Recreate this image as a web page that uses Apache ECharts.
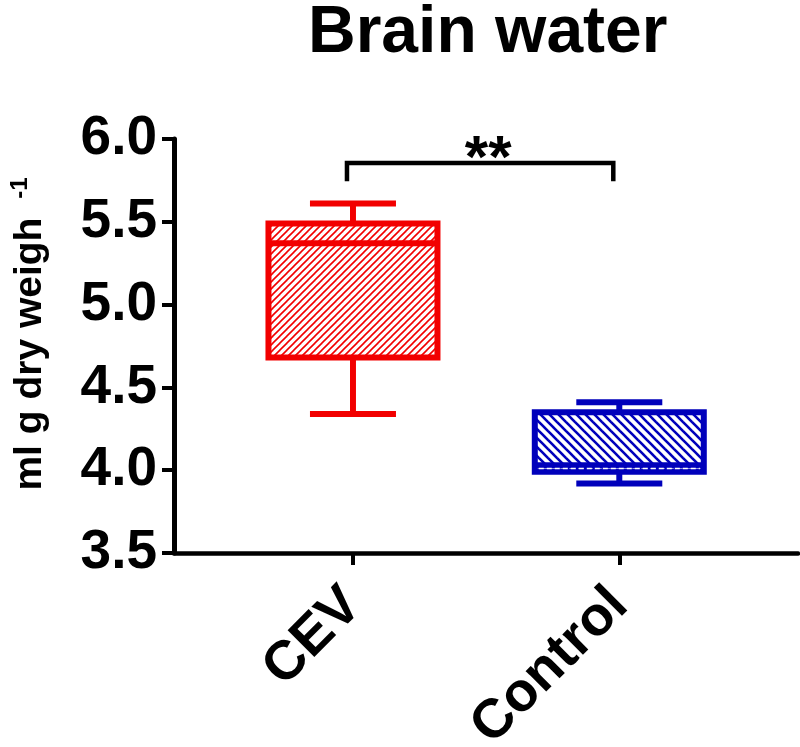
<!DOCTYPE html>
<html><head><meta charset="utf-8">
<script src="https://cdn.jsdelivr.net/npm/echarts@6/dist/echarts.min.js"></script>
<style>html,body{margin:0;padding:0;background:#fff}#c{width:800px;height:747px}</style>
</head><body><div id="c"></div>
<script>
// ---- data ----
const categories = ['CEV', 'Control'];
const whiskerMin = [4.34, 3.92];
const q1 = [4.68, 3.99];
const median = [5.37, 4.03];
const q3 = [5.49, 4.35];
const whiskerMax = [5.61, 4.41];
const yTicks = [3.5, 4.0, 4.5, 5.0, 5.5, 6.0];
const bracketLevels = [5.745, 5.855];
const sigLabel = '**';
const titleText = 'Brain water';
const yName = 'ml g dry weigh';
const ySup = '-1';

// ---- styles ----
const FONT = '"Liberation Sans", Arial, sans-serif';
const COLORS = ['#f20000', '#0000bb'];
const BOX_W = 169, CAP_W = 86, LW = 6;

function makeHatch(color, size, lw, forward) {
  const c = document.createElement('canvas');
  c.width = size; c.height = size;
  const g = c.getContext('2d');
  g.fillStyle = '#fff'; g.fillRect(0, 0, size, size);
  g.strokeStyle = color; g.lineWidth = lw; g.lineCap = 'square';
  const segs = forward
    ? [[0, size, size, 0], [-size, size, size, -size], [0, 2 * size, 2 * size, 0]]
    : [[0, 0, size, size], [-size, 0, size, 2 * size], [0, -size, 2 * size, size]];
  segs.forEach(s => { g.beginPath(); g.moveTo(s[0], s[1]); g.lineTo(s[2], s[3]); g.stroke(); });
  return { image: c, repeat: 'repeat' };
}
const patterns = [makeHatch(COLORS[0], 7, 1.6, true), makeHatch(COLORS[1], 9, 2.6, false)];

const boxData = categories.map((c, i) => [i, whiskerMin[i], q1[i], median[i], q3[i], whiskerMax[i]]);

function renderBox(params, api) {
  const i = api.value(0);
  const cx = api.coord([i, api.value(3)])[0];
  const yMin = api.coord([i, api.value(1)])[1];
  const yQ1 = api.coord([i, api.value(2)])[1];
  const yMed = api.coord([i, api.value(3)])[1];
  const yQ3 = api.coord([i, api.value(4)])[1];
  const yMax = api.coord([i, api.value(5)])[1];
  const col = COLORS[i];
  const h = BOX_W / 2, ch = CAP_W / 2;
  const ln = (x1, y1, x2, y2) => ({ type: 'line', shape: { x1, y1, x2, y2 }, style: { stroke: col, lineWidth: LW } });
  const children = [
    ln(cx, yQ3, cx, yMax), ln(cx, yQ1, cx, yMin),
    ln(cx - ch, yMax, cx + ch, yMax), ln(cx - ch, yMin, cx + ch, yMin),
    { type: 'rect', shape: { x: cx - h, y: yQ3, width: BOX_W, height: yQ1 - yQ3 }, style: { fill: patterns[i], stroke: col, lineWidth: LW } },
    ln(cx - h, yMed, cx + h, yMed)
  ];
  if (Math.abs(yQ1 - yMed) < 12) {
    const ym = (yQ1 + yMed) / 2;
    children.push({ type: 'line', shape: { x1: cx - h + 4, y1: ym, x2: cx + h - 4, y2: ym }, style: { stroke: '#fff', lineWidth: 1.5, lineDash: [5, 3] } });
  }
  return { type: 'group', children };
}

function renderBracket(params, api) {
  const lo = api.value(2), hi = api.value(3);
  const a = api.coord([api.value(0), lo]), b = api.coord([api.value(0), hi]);
  const c = api.coord([api.value(1), hi]), d = api.coord([api.value(1), lo]);
  const off = -6;
  return {
    type: 'group', children: [
      { type: 'polyline', shape: { points: [[a[0] + off, a[1]], [b[0] + off, b[1]], [c[0] + off, c[1]], [d[0] + off, d[1]]] },
        style: { stroke: '#000', lineWidth: 4.5, fill: null } },
      { type: 'text', style: { text: sigLabel, x: (b[0] + c[0]) / 2 + 2, y: b[1] - 3, align: 'center', verticalAlign: 'middle',
        font: 'bold 60px ' + FONT, fill: '#000' } }
    ]
  };
}

const chart = echarts.init(document.getElementById('c'), null, { renderer: 'canvas' });
chart.setOption({
  backgroundColor: '#fff',
  animation: false,
  textStyle: { fontFamily: FONT },
  title: { text: titleText, left: 303, top: -4, textStyle: { fontSize: 66, fontWeight: 'bold', color: '#000', fontFamily: FONT } },
  grid: { left: 174, right: 2, top: 139, bottom: 194, containLabel: false, outerBoundsMode: 'none' },
  xAxis: {
    type: 'value', min: -0.672, max: 1.671,
    splitLine: { show: false },
    axisLine: { show: true, onZero: false, lineStyle: { color: '#000', width: 4.5 } },
    axisTick: { show: true, customValues: [0, 1], length: 12, lineStyle: { color: '#000', width: 4 } },
    axisLabel: { show: true, customValues: [0, 1], formatter: v => categories[Math.round(v)], rotate: 45, margin: 44,
      fontSize: 55, fontWeight: 'bold', color: '#000', fontFamily: FONT }
  },
  yAxis: {
    type: 'value', min: yTicks[0], max: yTicks[yTicks.length - 1], interval: yTicks[1] - yTicks[0],
    splitLine: { show: false },
    axisLine: { show: true, onZero: false, lineStyle: { color: '#000', width: 5 } },
    axisTick: { show: true, length: 12, lineStyle: { color: '#000', width: 4 } },
    axisLabel: { formatter: v => v.toFixed(1), fontSize: 55, fontWeight: 'bold', color: '#000', margin: 17, fontFamily: FONT },
    name: '{a|' + yName + ' }{b|' + ySup + '}', nameLocation: 'middle', nameRotate: 90, nameGap: 122,
    nameTextStyle: {
      padding: [0, 0, 0, 24],
      rich: {
        a: { fontSize: 39, fontWeight: 'bold', color: '#000', fontFamily: FONT, lineHeight: 44 },
        b: { fontSize: 24, fontWeight: 'bold', color: '#000', fontFamily: FONT, verticalAlign: 'top', lineHeight: 44, padding: [0, 0, 0, 8] }
      }
    }
  },
  series: [
    { type: 'custom', renderItem: renderBox, data: boxData, encode: { x: 0, y: [1, 2, 3, 4, 5] }, clip: false, z: 3 },
    { type: 'custom', renderItem: renderBracket, data: [[0, 1, bracketLevels[0], bracketLevels[1]]], encode: { y: [2, 3] }, clip: false, z: 4 }
  ]
});
</script></body></html>
